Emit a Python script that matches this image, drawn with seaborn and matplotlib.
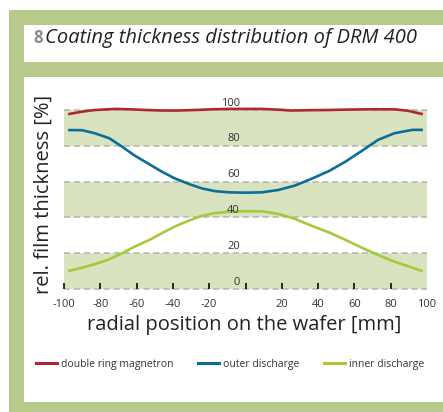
import numpy as np
import pandas as pd
import seaborn as sns
import matplotlib.pyplot as plt
from matplotlib.patches import Rectangle

# values
pos_ring = [-97, -90, -83, -72, -64, -55, -46, -37, -28, -18, -9, 0,
            9, 18, 25, 36, 46, 55, 68, 82, 90, 97]
double_ring = [97.8, 99.1, 100, 100.6, 100.4, 100, 99.7, 99.7, 100, 100.4, 100.6, 100.6,
               100.6, 100.2, 99.7, 99.9, 100, 100.2, 100.4, 100.4, 99.5, 97.8]
pos_discharge = [-97, -90, -83, -75, -68, -61, -53, -46, -39, -31, -24, -17, -9, 0,
                 9, 18, 27, 36, 46, 55, 64, 73, 82, 92, 97]
outer = [88.8, 88.7, 87.0, 84.2, 79.5, 74.5, 69.7, 65.5, 61.8, 58.6, 56.2, 54.7, 54.0, 53.8,
         54.0, 55.3, 57.7, 61.4, 65.9, 71.1, 77.1, 83.3, 87.0, 88.9, 88.9]
inner = [10.2, 11.9, 13.9, 16.6, 20.0, 23.7, 27.4, 31.2, 34.9, 38.3, 40.9, 42.4, 43.1, 43.5,
         43.4, 42.0, 39.3, 35.5, 31.6, 27.5, 23.1, 19.0, 15.3, 11.9, 10.2]

series_names = ['double ring magnetron', 'outer discharge', 'inner discharge']
series_colors = ['#b0282f', '#0c6e98', '#a4c93b']
x_ticks = [-100, -80, -60, -40, -20, 0, 20, 40, 60, 80, 100]
x_ticklabels = ['-100', '-80', '-60', '-40', '-20', '', '20', '40', '60', '80', '100']
y_ticks = [0, 20, 40, 60, 80, 100]
bands = [(0, 20), (40, 60), (80, 100)]

df = pd.concat([
    pd.DataFrame({'pos': pos_ring, 'value': double_ring, 'series': series_names[0]}),
    pd.DataFrame({'pos': pos_discharge, 'value': outer, 'series': series_names[1]}),
    pd.DataFrame({'pos': pos_discharge, 'value': inner, 'series': series_names[2]}),
], ignore_index=True)

plt.rcParams['font.family'] = ['Open Sans', 'DejaVu Sans']

W, H = 443, 412
fig = plt.figure(figsize=(W / 100, H / 100), dpi=100)
fig.patch.set_facecolor('white')

frame_green = '#b8c98c'
# green frame with white panels on top, kept below the axes
fig.patches.append(Rectangle((9 / W, 0), 1, 1 - 10 / H, transform=fig.transFigure,
                             facecolor=frame_green, edgecolor='none', zorder=-3))
fig.patches.append(Rectangle((24 / W, 1 - 62 / H), 1, 37 / H, transform=fig.transFigure,
                             facecolor='white', edgecolor='none', zorder=-2))
fig.patches.append(Rectangle((24 / W, 1 - 402 / H), 1, 325 / H, transform=fig.transFigure,
                             facecolor='white', edgecolor='none', zorder=-2))

# title
fig.text(33 / W, 1 - 38 / H, '8', fontsize=12, fontweight='bold', color='#8a8a8a',
         ha='left', va='center')
fig.text(45 / W, 1 - 38 / H, 'Coating thickness distribution of DRM 400', fontsize=14.5,
         fontstyle='italic', color='#222222', ha='left', va='center')

ax = fig.add_axes([64 / W, (H - 289) / H, 363 / W, 179 / H])
ax.set_facecolor('none')

for lo, hi in bands:
    ax.axhspan(lo, hi, color='#d9e3c0', lw=0, zorder=0)
for y in y_ticks:
    ax.axhline(y, color='#b3b3b3', lw=1.1, ls=(0, (4, 2.5)), zorder=1)

sns.lineplot(data=df, x='pos', y='value', hue='series', hue_order=series_names,
             palette=dict(zip(series_names, series_colors)), lw=1.9, ax=ax, zorder=3)
for line in ax.get_lines():
    line.set_clip_on(False)
    line.set_solid_joinstyle('round')

handles, labels = ax.get_legend_handles_labels()
ax.get_legend().remove()
for h in handles:
    h.set_linewidth(2.2)

ax.set_xlim(-100, 100)
ax.set_ylim(0, 100)
ax.set_xticks(x_ticks)
ax.set_xticklabels(x_ticklabels)
ax.set_yticks([])
ax.tick_params(axis='x', length=0, labelsize=8, labelcolor='#333333', pad=7)
for s in ax.spines.values():
    s.set_visible(False)
ax.set_xlabel('')
ax.set_ylabel('')

# short upward tick marks on the bottom line (none at the right end)
ax.vlines(x_ticks[:-1], 0, 3.2, colors='#1a1a1a', lw=1.3, zorder=4, clip_on=False)

# y tick labels sit inside the plot, just above each dashed line
for y in y_ticks:
    ax.text(-3, y + 0.8, str(y), ha='right', va='bottom', fontsize=8,
            color='#333333', zorder=5)

fig.text(244 / W, 1 - 325 / H, 'radial position on the wafer [mm]', fontsize=14.5,
         color='#222222', ha='center', va='center')
fig.text(44 / W, 1 - 194 / H, 'rel. film thickness [%]', fontsize=14.5,
         color='#222222', ha='center', va='center', rotation=90)

fig.legend(handles, labels, loc='center left', bbox_to_anchor=(36 / W, 1 - 364 / H),
           ncol=3, frameon=False, fontsize=7.5, labelcolor='#333333',
           handlelength=2.0, handletextpad=0.4, columnspacing=2.35,
           borderpad=0, borderaxespad=0)

fig.savefig('out.png', dpi=100)
